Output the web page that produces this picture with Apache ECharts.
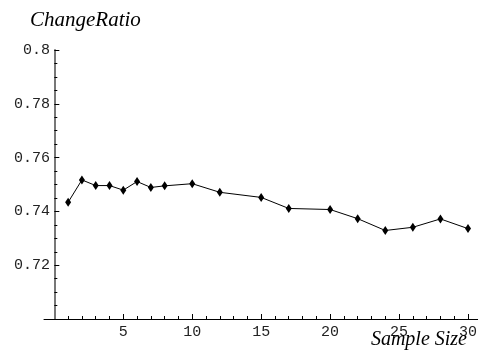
<!DOCTYPE html>
<html>
<head>
<meta charset="utf-8">
<script src="https://cdn.jsdelivr.net/npm/echarts@6/dist/echarts.min.js"></script>
<style>
html, body { margin: 0; padding: 0; background: #fff; }
#chart { width: 480px; height: 354px; }
</style>
</head>
<body>
<div id="chart"></div>
<script>
// sample sizes and measured change ratio
var sampleSize = [1, 2, 3, 4, 5, 6, 7, 8, 10, 12, 15, 17, 20, 22, 24, 26, 28, 30];
var changeRatio = [0.7434, 0.7517, 0.7496, 0.7496, 0.7479, 0.7511, 0.7489, 0.7495, 0.7503,
                   0.7471, 0.7452, 0.7411, 0.7407, 0.7373, 0.7329, 0.7341, 0.7372, 0.7336];
var xMajorTicks = [5, 10, 15, 20, 25, 30];
var xMinorTicks = [1, 2, 3, 4, 6, 7, 8, 9, 11, 12, 13, 14, 16, 17, 18, 19, 21, 22, 23, 24, 26, 27, 28, 29];

var chart = echarts.init(document.getElementById('chart'));

var points = sampleSize.map(function (x, i) { return [x, changeRatio[i]]; });

var monoFont = '"Liberation Mono", "DejaVu Sans Mono", monospace';
var serifFont = '"Liberation Serif", "DejaVu Serif", serif';

var option = {
  animation: false,
  backgroundColor: '#fff',
  title: [
    {
      text: 'ChangeRatio',
      left: 25, top: 5,
      textStyle: { fontFamily: serifFont, fontStyle: 'italic', fontWeight: 'normal', fontSize: 21, color: '#000' }
    },
    {
      text: 'Sample Size',
      right: 8, bottom: -1,
      textStyle: { fontFamily: serifFont, fontStyle: 'italic', fontWeight: 'normal', fontSize: 20, color: '#000' }
    }
  ],
  grid: { left: 44, right: 0, top: 50, bottom: 35, containLabel: false },
  xAxis: [
    {
      type: 'value', min: -0.75, max: 30.7,
      axisLine: { onZero: false, lineStyle: { color: '#000', width: 1 } },
      axisTick: { inside: true, length: 5, customValues: xMajorTicks, lineStyle: { color: '#000' } },
      axisLabel: { customValues: xMajorTicks, margin: 6, fontFamily: monoFont, fontSize: 15, color: '#222' },
      splitLine: { show: false }
    },
    {
      type: 'value', min: -0.75, max: 30.7, position: 'bottom',
      axisLine: { show: false },
      axisTick: { inside: true, length: 3, customValues: xMinorTicks, lineStyle: { color: '#000' } },
      axisLabel: { show: false, customValues: xMinorTicks },
      splitLine: { show: false }
    }
  ],
  yAxis: {
    type: 'value', min: 0.7, max: 0.8, interval: 0.02,
    axisLine: { show: true, onZero: true, lineStyle: { color: '#777', width: 2 } },
    axisTick: { show: true, inside: true, length: 5, lineStyle: { color: '#000' } },
    minorTick: { show: true, splitNumber: 4, length: 3, lineStyle: { color: '#000' } },
    axisLabel: {
      margin: -6, fontFamily: monoFont, fontSize: 15, color: '#222',
      formatter: function (v) {
        if (v < 0.71) return '';
        return String(+v.toFixed(2));
      }
    },
    splitLine: { show: false }
  },
  series: [
    {
      type: 'line',
      xAxisIndex: 0,
      data: points,
      symbol: 'diamond',
      symbolSize: [6, 9],
      itemStyle: { color: '#000' },
      lineStyle: { color: '#000', width: 1 }
    }
  ]
};

chart.setOption(option);
</script>
</body>
</html>
